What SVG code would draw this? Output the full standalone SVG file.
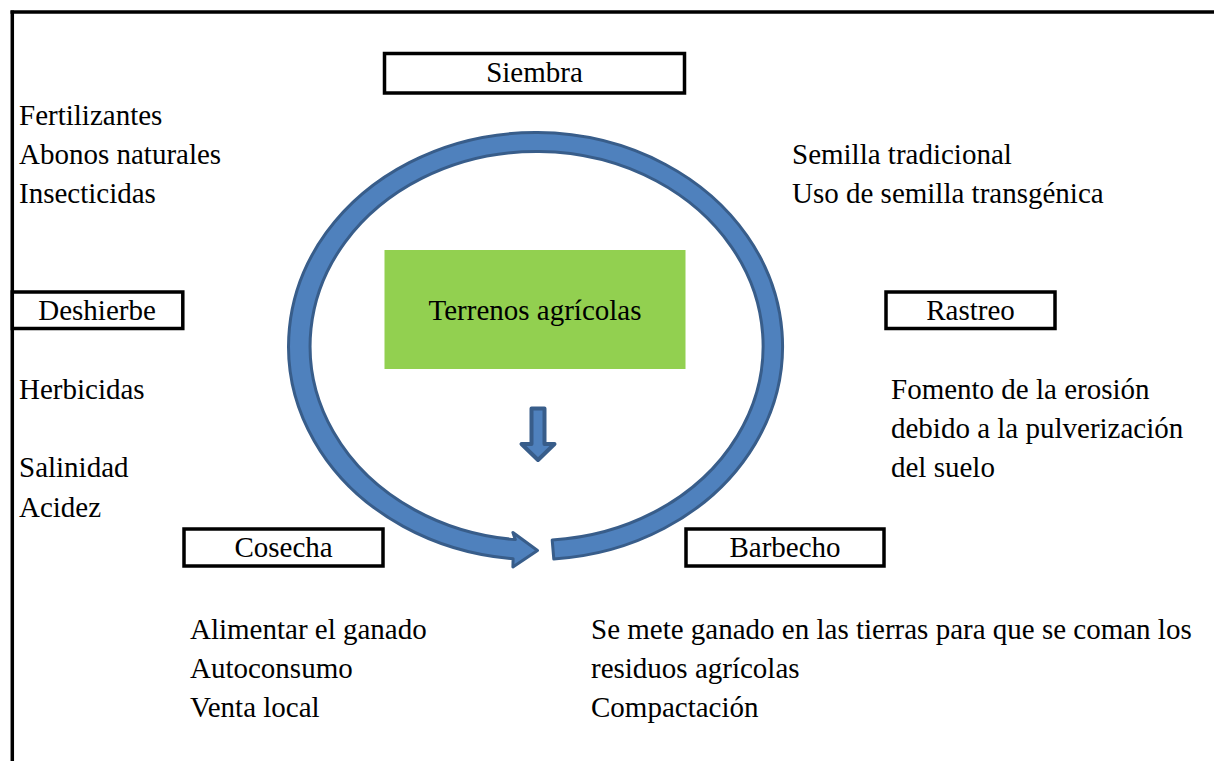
<svg xmlns="http://www.w3.org/2000/svg" width="1214" height="761" viewBox="0 0 1214 761">
<style>
  text { font-family: "Liberation Serif", "Times New Roman", serif; font-size: 29px; fill: #000; }
  .c { text-anchor: middle; }
  .box { fill: #fff; stroke: #000; stroke-width: 3.5; }
  .blue { fill: #4F81BD; stroke: #385D8A; stroke-linejoin: round; }
</style>
<rect width="1214" height="761" fill="#fff"/>
<g id="frame">
  <line x1="10.5" y1="12" x2="1214" y2="12" stroke="#000" stroke-width="3.5"/>
  <line x1="12.3" y1="10.5" x2="12.3" y2="761" stroke="#000" stroke-width="3.5"/>
</g>
<g id="connectors">
  <path class="blue" stroke-width="3" d="M 553.8 559 A 247 213.5 0 1 0 513.1 558.7 L 512.9 567 L 537.5 550.5 L 512.9 532.5 L 515.3 539.6 A 226.5 194.5 0 1 1 552.2 540 Z"/>
  <polygon class="blue" stroke-width="4" points="531.5,408.5 544.5,408.5 544.5,444 554.5,444 538,460 521.5,444 531.5,444"/>
</g>
<g id="terrenos">
  <rect x="384.5" y="250" width="301" height="119" fill="#92D050"/>
  <text class="c" x="535" y="320">Terrenos agrícolas</text>
</g>
<g id="siembra">
  <rect class="box" x="384.5" y="53.5" width="300" height="39.5"/>
  <text class="c" x="534.5" y="82">Siembra</text>
</g>
<g id="deshierbe">
  <rect class="box" x="12.3" y="292" width="170.5" height="36.5"/>
  <text class="c" x="97" y="320">Deshierbe</text>
</g>
<g id="rastreo">
  <rect class="box" x="886" y="292" width="169" height="36.5"/>
  <text class="c" x="970.5" y="320">Rastreo</text>
</g>
<g id="cosecha">
  <rect class="box" x="184" y="529" width="199" height="37"/>
  <text class="c" x="283.5" y="557">Cosecha</text>
</g>
<g id="barbecho">
  <rect class="box" x="686" y="529" width="198" height="37"/>
  <text class="c" x="785" y="557">Barbecho</text>
</g>
<g id="notes-left-top">
  <text x="19" y="125">Fertilizantes</text>
  <text x="19" y="164">Abonos naturales</text>
  <text x="19" y="203">Insecticidas</text>
</g>
<g id="notes-right-top">
  <text x="792" y="164">Semilla tradicional</text>
  <text x="792" y="203">Uso de semilla transgénica</text>
</g>
<g id="notes-left-mid">
  <text x="19" y="399">Herbicidas</text>
  <text x="19" y="477">Salinidad</text>
  <text x="19" y="517">Acidez</text>
</g>
<g id="notes-right-mid">
  <text x="891" y="399">Fomento de la erosión</text>
  <text x="891" y="438">debido a la pulverización</text>
  <text x="891" y="477">del suelo</text>
</g>
<g id="notes-cosecha">
  <text x="190" y="639">Alimentar el ganado</text>
  <text x="190" y="678">Autoconsumo</text>
  <text x="190" y="717">Venta local</text>
</g>
<g id="notes-barbecho">
  <text x="591" y="639">Se mete ganado en las tierras para que se coman los</text>
  <text x="591" y="678">residuos agrícolas</text>
  <text x="591" y="717">Compactación</text>
</g>
</svg>
